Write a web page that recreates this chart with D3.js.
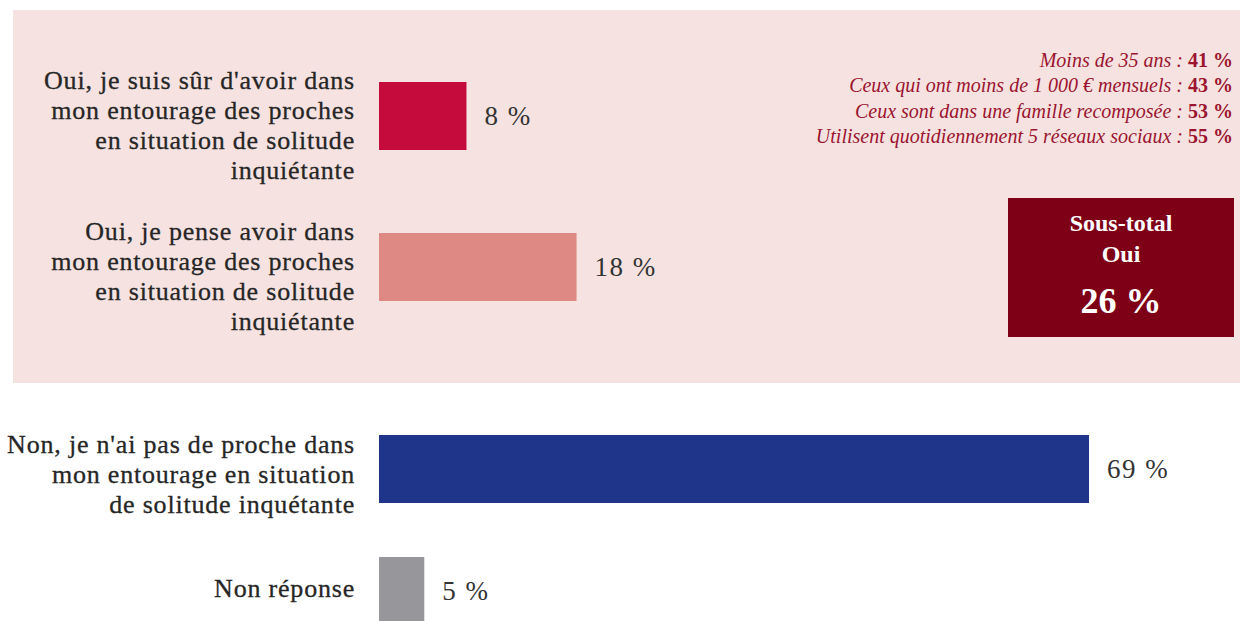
<!DOCTYPE html>
<html>
<head>
<meta charset="utf-8">
<script src="https://cdn.jsdelivr.net/npm/d3@7"></script>
<style>
  body { margin: 0; background: #fff; }
  svg { display: block; }
</style>
</head>
<body>
<div id="canvas"></div>
<script>
// data
var categories = [
  ["Oui, je suis sûr d'avoir dans", "mon entourage des proches", "en situation de solitude", "inquiétante"],
  ["Oui, je pense avoir dans", "mon entourage des proches", "en situation de solitude", "inquiétante"],
  ["Non, je n'ai pas de proche dans", "mon entourage en situation", "de solitude inquétante"],
  ["Non réponse"]
];
var values = [8, 18, 69, 5];
// bar lengths as drawn in the picture (labels are rounded)
var barLengths = [8.5, 19.2, 69, 4.4];
var colors = ["#c50b3c", "#df8985", "#1f358a", "#96969b"];

var noteLabels = ["Moins de 35 ans : ", "Ceux qui ont moins de 1 000 € mensuels : ",
  "Ceux sont dans une famille recomposée : ", "Utilisent quotidiennement 5 réseaux sociaux : "];
var noteValues = [41, 43, 53, 55];

var subtotalTitle = ["Sous-total", "Oui"];
var subtotalValue = 26;

var width = 1240;
var height = 621;
var font = "'Liberation Serif', 'DejaVu Serif', serif";

var svg = d3.select("#canvas").append("svg")
  .attr("width", width)
  .attr("height", height)
  .style("font-family", font);

// pink "Oui" zone
svg.append("rect")
  .attr("x", 13)
  .attr("y", 10)
  .attr("width", 1227)
  .attr("height", 373)
  .attr("fill", "#f6e3e1");

var x = d3.scaleLinear()
  .domain([0, 69])
  .range([379, 1089]);
var idx = d3.range(categories.length);
var y = d3.scaleOrdinal()
  .domain(idx)
  .range([116, 267, 469, 591]);
var barH = 68;

var rows = svg.selectAll("g.row").data(idx).enter()
  .append("g")
  .attr("class", "row");

rows.append("rect")
  .attr("x", x(0))
  .attr("y", (i) => y(i) - barH / 2)
  .attr("width", (i) => x(barLengths[i]) - x(0))
  .attr("height", barH)
  .attr("fill", (i) => colors[i]);

rows.append("text")
  .attr("x", (i) => x(barLengths[i]) + 18)
  .attr("y", (i) => y(i))
  .attr("dy", "0.35em")
  .attr("font-size", "27px")
  .attr("letter-spacing", "1.5px")
  .attr("fill", "#333")
  .text((i) => values[i] + " %");

// category labels, right-aligned
var lineH = 30;
rows.append("text")
  .attr("text-anchor", "end")
  .attr("font-size", "26px")
  .attr("letter-spacing", "0.8px")
  .attr("fill", "#262626")
  .attr("stroke", "#262626")
  .attr("stroke-width", 0.3)
  .each(function(i) {
    var lines = categories[i];
    var n = lines.length;
    var c = y(i) + (n - 1) * 4 - 3;
    var top = c - (n - 1) * lineH / 2;
    d3.select(this).selectAll("tspan").data(lines).enter()
      .append("tspan")
      .attr("x", 355)
      .attr("y", (d, k) => top + k * lineH)
      .attr("dy", "0.35em")
      .text((d) => d);
  });

// notes top-right
var notes = svg.append("g")
  .attr("font-size", "20px")
  .attr("fill", "#9b1430");
noteLabels.forEach((lab, k) => {
  var t = notes.append("text")
    .attr("x", 1233)
    .attr("y", 60 + k * 25.3)
    .attr("dy", "0.35em")
    .attr("text-anchor", "end");
  t.append("tspan").attr("font-style", "italic").text(lab);
  t.append("tspan").attr("font-weight", "bold").text(noteValues[k] + " %");
});

// subtotal box
var box = svg.append("g");
box.append("rect")
  .attr("x", 1008)
  .attr("y", 198)
  .attr("width", 226)
  .attr("height", 139)
  .attr("fill", "#7d0016");
box.selectAll("text.t").data(subtotalTitle).enter()
  .append("text")
  .attr("class", "t")
  .attr("x", 1121)
  .attr("y", (d, k) => 223 + k * 31)
  .attr("dy", "0.35em")
  .attr("text-anchor", "middle")
  .attr("font-size", "24px")
  .attr("font-weight", "bold")
  .attr("fill", "#fff")
  .text((d) => d);
box.append("text")
  .attr("x", 1121)
  .attr("y", 300)
  .attr("dy", "0.35em")
  .attr("text-anchor", "middle")
  .attr("font-size", "36px")
  .attr("font-weight", "bold")
  .attr("fill", "#fff")
  .text(subtotalValue + " %");
</script>
</body>
</html>
